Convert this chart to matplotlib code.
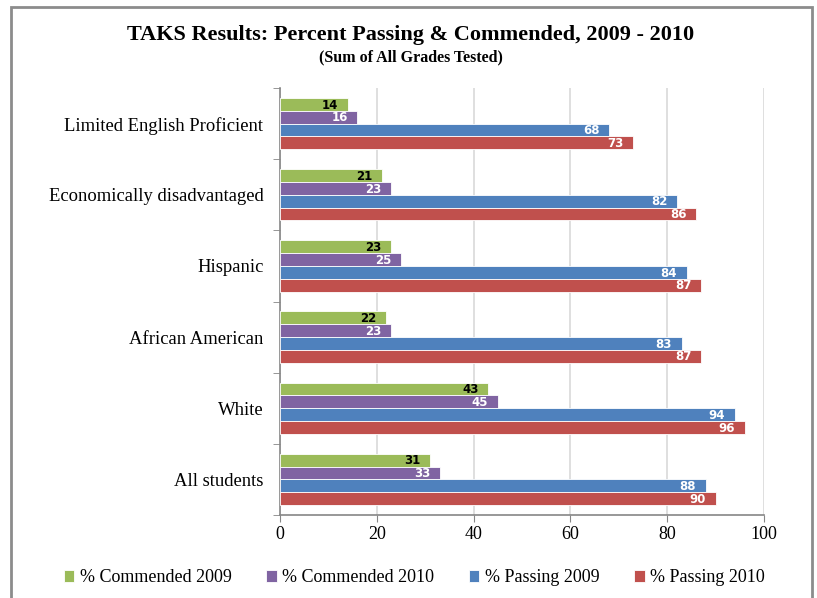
import matplotlib
matplotlib.use("Agg")
import matplotlib.pyplot as plt
from matplotlib.patches import Rectangle
import numpy as np

categories = ["All students", "White", "African American", "Hispanic",
              "Economically disadvantaged", "Limited English Proficient"]
commended_2009 = [31, 43, 22, 23, 21, 14]
commended_2010 = [33, 45, 23, 25, 23, 16]
passing_2009 = [88, 94, 83, 84, 82, 68]
passing_2010 = [90, 96, 87, 87, 86, 73]
series_names = ["% Commended 2009", "% Commended 2010", "% Passing 2009", "% Passing 2010"]
colors = ["#9BBB59", "#8064A2", "#4F81BD", "#C0504D"]
label_colors = ["black", "white", "white", "white"]
xticks = [0, 20, 40, 60, 80, 100]

serif = "Liberation Serif"

fig = plt.figure(figsize=(8.17, 5.98), dpi=100)
ax = fig.add_axes([280/817, 1-515/598, (764-280)/817, (515-88)/598])

series = [commended_2009, commended_2010, passing_2009, passing_2010]
y = np.arange(len(categories))
h = 0.18
offsets = [1.5*h, 0.5*h, -0.5*h, -1.5*h]
for vals, off, col, lc, name in zip(series, offsets, colors, label_colors, series_names):
    ax.barh(y + off, vals, height=h, color=col, edgecolor="white", linewidth=0.6,
            label=name, zorder=3)
    for yi, v in zip(y, vals):
        ax.annotate(str(v), xy=(v, yi + off), xytext=(-7, -0.5), textcoords="offset points",
                    ha="right", va="center", fontsize=8.5, fontweight="bold", color=lc,
                    family="DejaVu Sans", zorder=4)

ax.set_xlim(0, 100)
ax.set_ylim(-0.5, len(categories) - 0.5)
ax.set_xticks(xticks)
ax.set_xticklabels([str(t) for t in xticks], family=serif, fontsize=13)
ax.set_yticks(y)
ax.set_yticklabels(categories, family=serif, fontsize=13.4)
ax.set_yticks(np.arange(-0.5, len(categories), 1.0), minor=True)
ax.tick_params(axis="y", which="major", length=0, pad=12)
ax.tick_params(axis="y", which="minor", length=5, color="#868686", direction="out")
ax.tick_params(axis="x", length=5, color="#868686", direction="out", pad=3)
ax.grid(axis="x", color="#D9D9D9", linewidth=1.2, zorder=0)
for s in ["top", "right"]:
    ax.spines[s].set_visible(False)
for s in ["left", "bottom"]:
    ax.spines[s].set_color("#868686")
    ax.spines[s].set_linewidth(1.2)

fig.text(0.503, 1-35/598, "TAKS Results: Percent Passing & Commended, 2009 - 2010",
         ha="center", va="center", family=serif, fontweight="bold", fontsize=16)
fig.text(0.503, 1-57/598, "(Sum of All Grades Tested)",
         ha="center", va="center", family=serif, fontweight="bold", fontsize=11.5)

fig.legend(loc="center", bbox_to_anchor=(0.507, 1-578/598), ncol=4, frameon=False,
           prop={"family": serif, "size": 13}, handlelength=0.6, handleheight=0.6,
           handletextpad=0.3, columnspacing=1.9)

fig.patches.append(Rectangle((11/817, -0.05), (812-11)/817, 1.05 - 7/598,
                             transform=fig.transFigure, fill=False,
                             edgecolor="#8C8C8C", linewidth=2.0))

fig.savefig("out.png", dpi=100)
